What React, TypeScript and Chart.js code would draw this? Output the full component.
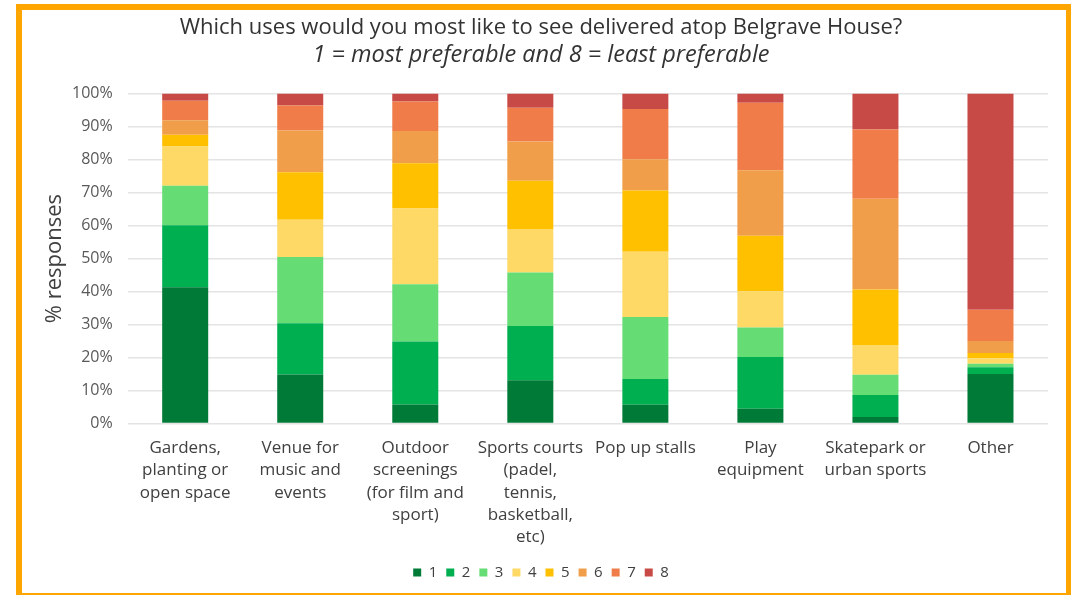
import React, { useEffect, useRef } from "react";
import { Chart, registerables } from "chart.js";

Chart.register(...registerables);

const categories: string[][] = [
  ["Gardens,", "planting or", "open space"],
  ["Venue for", "music and", "events"],
  ["Outdoor", "screenings", "(for film and", "sport)"],
  ["Sports courts", "(padel,", "tennis,", "basketball,", "etc)"],
  ["Pop up stalls"],
  ["Play", "equipment"],
  ["Skatepark or", "urban sports"],
  ["Other"],
];

const seriesLabels = ["1", "2", "3", "4", "5", "6", "7", "8"];

const rank1 = [41.3, 14.9, 5.8, 13.1, 5.7, 4.5, 2.0, 15.0];
const rank2 = [18.8, 15.5, 19.1, 16.5, 7.8, 15.7, 6.7, 2.1];
const rank3 = [12.0, 20.1, 17.3, 16.2, 18.8, 8.9, 6.1, 1.0];
const rank4 = [11.9, 11.3, 23.0, 13.2, 19.8, 11.0, 9.0, 1.7];
const rank5 = [3.5, 14.4, 13.7, 14.6, 18.5, 16.8, 16.8, 1.6];
const rank6 = [4.4, 12.6, 9.8, 11.9, 9.5, 19.9, 27.5, 3.6];
const rank7 = [5.9, 7.6, 8.9, 10.2, 15.2, 20.4, 21.0, 9.5];
const rank8 = [2.2, 3.6, 2.4, 4.3, 4.7, 2.8, 10.9, 65.5];

const seriesValues = [rank1, rank2, rank3, rank4, rank5, rank6, rank7, rank8];

const seriesColors = [
  "#007A37",
  "#00AF50",
  "#66DC74",
  "#FFD966",
  "#FFC000",
  "#F19E4A",
  "#F07D49",
  "#C84A46",
];

const yTicks = [0, 10, 20, 30, 40, 50, 60, 70, 80, 90, 100];
const yAxisTitle = "% responses";

const FONT = "'Open Sans', 'Noto Sans', sans-serif";

const yTitlePlugin = {
  id: "yTitle",
  afterDraw(chart: any) {
    const { ctx, chartArea } = chart;
    ctx.save();
    ctx.translate(55, (chartArea.top + chartArea.bottom) / 2);
    ctx.rotate(-Math.PI / 2);
    ctx.font = `normal 22px ${FONT}`;
    ctx.fillStyle = "#404040";
    ctx.textAlign = "center";
    ctx.textBaseline = "middle";
    ctx.fillText(yAxisTitle, 0, 0);
    ctx.restore();
  },
};

export default function App() {
  const ref = useRef<HTMLCanvasElement | null>(null);

  useEffect(() => {
    if (!ref.current) return;
    const chart = new Chart(ref.current, {
      type: "bar",
      data: {
        labels: categories,
        datasets: seriesLabels.map((l, i) => ({
          label: l,
          data: seriesValues[i],
          backgroundColor: seriesColors[i],
          borderWidth: 0,
          categoryPercentage: 1,
          barPercentage: 0.4,
        })),
      },
      plugins: [yTitlePlugin],
      options: {
        animation: false,
        responsive: false,
        maintainAspectRatio: false,
        layout: { padding: { left: 34, right: 23, top: 8, bottom: 5 } },
        plugins: {
          title: {
            display: true,
            text: "Which uses would you most like to see delivered atop Belgrave House?",
            color: "#333333",
            font: { family: FONT, size: 22, weight: "normal" },
            padding: { top: 7, bottom: 0 },
          },
          subtitle: {
            display: true,
            text: "1 = most preferable and 8 = least preferable",
            color: "#333333",
            font: { family: FONT, size: 23.5, style: "italic", weight: "normal" },
            padding: { top: 0, bottom: 24 },
          },
          legend: {
            display: true,
            position: "bottom",
            labels: {
              boxWidth: 8,
              boxHeight: 8,
              padding: 9,
              color: "#404040",
              font: { family: FONT, size: 15 },
            },
          },
          tooltip: { enabled: false },
        },
        scales: {
          x: {
            stacked: true,
            grid: { display: false },
            border: { display: false },
            ticks: {
              color: "#404040",
              font: { family: FONT, size: 17, lineHeight: 1.32 },
              maxRotation: 0,
              autoSkip: false,
              padding: 5,
            },
            title: {
              display: true,
              text: "",
              font: { family: FONT, size: 1 },
              padding: { top: 0, bottom: 1 },
            },
          },
          y: {
            stacked: true,
            min: 0,
            max: 100,
            afterBuildTicks: (axis: any) => {
              axis.ticks = yTicks.map((v) => ({ value: v }));
            },
            grid: { color: "#E4E4E4", lineWidth: 1.5, drawTicks: false },
            border: { display: false },
            ticks: {
              color: "#595959",
              font: { family: FONT, size: 16 },
              padding: 15,
              callback: (v: any) => v + "%",
            },
            title: {
              display: true,
              text: "",
              font: { family: FONT, size: 1 },
              padding: { top: 0, bottom: 21.8 },
            },
          },
        },
      },
    });
    return () => chart.destroy();
  }, []);

  return (
    <div style={{ position: "fixed", left: 0, top: 0, width: 1071, height: 595, background: "#fff" }}>
      <canvas
        ref={ref}
        width={1071}
        height={595}
        style={{ position: "absolute", left: 0, top: 0, width: 1071, height: 595 }}
      />
      <div
        style={{
          position: "absolute",
          left: 16,
          top: 4,
          width: 1056,
          height: 595,
          boxSizing: "border-box",
          border: "6px solid #FFA500",
          pointerEvents: "none",
        }}
      />
    </div>
  );
}
